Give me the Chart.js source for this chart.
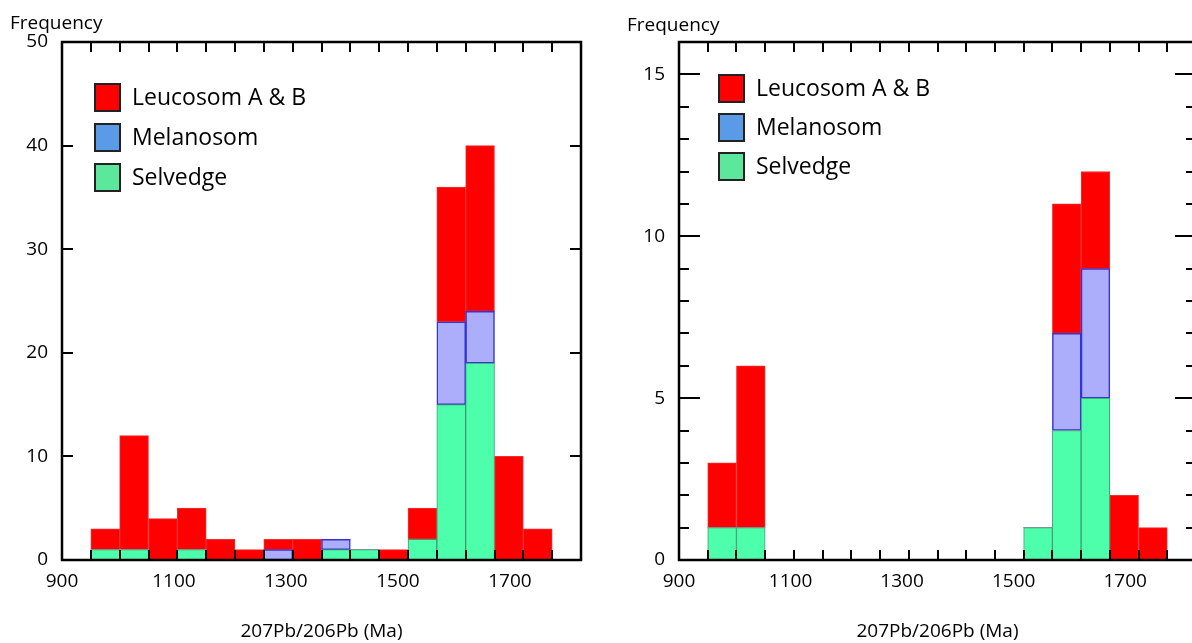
<!DOCTYPE html>
<html>
<head>
<meta charset="utf-8">
<script src="https://cdn.jsdelivr.net/npm/chart.js@4"></script>
<style>
  html, body { margin: 0; padding: 0; background: #fff; overflow: hidden; }
  #wrap { position: relative; width: 1192px; height: 643px; overflow: hidden; }
  .panel { position: absolute; top: 0; width: 600px; height: 643px; }
  #leftPanel { left: 0; }
  #rightPanel { left: 600px; }
</style>
</head>
<body>
<div id="wrap">
  <div class="panel" id="leftPanel"><canvas id="chartLeft" width="600" height="643"></canvas></div>
  <div class="panel" id="rightPanel"><canvas id="chartRight" width="600" height="643"></canvas></div>
</div>
<script>
// bins (Ma)
const binCenters = [977.25, 1028.75, 1080.25, 1131.75, 1183.25, 1234.75, 1286.25, 1337.75,
                    1389.25, 1440.75, 1492.25, 1543.75, 1595.25, 1646.75, 1698.25, 1749.75];
const binEdges = [951.5, 1003, 1054.5, 1106, 1157.5, 1209, 1260.5, 1312, 1363.5,
                  1415, 1466.5, 1518, 1569.5, 1621, 1672.5, 1724, 1775.5];
const xTickValues = [900, 1100, 1300, 1500, 1700];

// left panel counts
const leftSelvedge  = [1, 1, 0, 1, 0, 0, 0, 0, 1, 1, 0, 2, 15, 19, 0, 0];
const leftMelanosom = [0, 0, 0, 0, 0, 0, 1, 0, 1, 0, 0, 0, 8, 5, 0, 0];
const leftLeucosom  = [2, 11, 4, 4, 2, 1, 1, 2, 0, 0, 1, 3, 13, 16, 10, 3];

// right panel counts
const rightSelvedge  = [1, 1, 0, 0, 0, 0, 0, 0, 0, 0, 0, 1, 4, 5, 0, 0];
const rightMelanosom = [0, 0, 0, 0, 0, 0, 0, 0, 0, 0, 0, 0, 3, 4, 0, 0];
const rightLeucosom  = [2, 5, 0, 0, 0, 0, 0, 0, 0, 0, 0, 0, 4, 3, 2, 1];

const legendNames = ['Leucosom A & B', 'Melanosom', 'Selvedge'];
const legendColors = ['#ff0000', '#5a9be8', '#5ce89c'];

const FONT = "'Open Sans', 'Liberation Sans', sans-serif";

// frame, inward ticks, inside legend and the "Frequency" label
const decorations = {
  id: 'decorations',
  afterDatasetsDraw(chart, args, opts) {
    const { ctx, chartArea: a, scales: { x, y } } = chart;
    ctx.save();
    ctx.strokeStyle = '#000';
    ctx.lineWidth = 2;
    ctx.beginPath();
    binEdges.forEach(v => {
      const px = Math.round(x.getPixelForValue(v));
      ctx.moveTo(px, a.top); ctx.lineTo(px, a.top + 10);
      ctx.moveTo(px, a.bottom); ctx.lineTo(px, a.bottom - 10);
    });
    y.ticks.forEach(t => {
      const py = Math.round(y.getPixelForValue(t.value));
      const len = t.value % opts.major === 0 ? opts.majorLen : opts.minorLen;
      ctx.moveTo(a.left, py); ctx.lineTo(a.left + len, py);
      ctx.moveTo(a.right, py); ctx.lineTo(a.right - len, py);
    });
    ctx.stroke();
    ctx.lineWidth = 2.5;
    ctx.strokeRect(a.left, a.top, a.right - a.left, a.bottom - a.top);

    // legend inside plot
    const lx = a.left + opts.legendX;
    let ly = a.top + opts.legendY;
    ctx.font = '23px ' + FONT;
    ctx.textBaseline = 'middle';
    ctx.textAlign = 'left';
    legendNames.forEach((name, i) => {
      ctx.fillStyle = legendColors[i];
      ctx.fillRect(lx, ly, 25, 27);
      ctx.lineWidth = 2;
      ctx.strokeStyle = '#222';
      ctx.strokeRect(lx, ly, 25, 27);
      ctx.fillStyle = '#000';
      ctx.fillText(name, lx + 37, ly + 14);
      ly += opts.legendGap;
    });

    // axis caption above the y axis
    ctx.font = '19px ' + FONT;
    ctx.textBaseline = 'alphabetic';
    ctx.fillText('Frequency', opts.freqX, opts.freqY);
    ctx.restore();
  }
};

function buildChart(id, selvedge, melanosom, leucosom, yMax, yStep, deco, layout) {
  const zeroless = ctx => (ctx.raw ? ctx.dataset.edgeWidth : 0);
  return new Chart(document.getElementById(id), {
    type: 'bar',
    data: {
      labels: binCenters,
      datasets: [
        { label: 'Selvedge', data: selvedge, backgroundColor: '#4dffaa',
          borderColor: '#3c9c70', edgeWidth: 1, borderWidth: zeroless, borderSkipped: false },
        { label: 'Melanosom', data: melanosom, backgroundColor: '#acaefc',
          borderColor: '#3434d4', edgeWidth: 1.5, borderWidth: zeroless, borderSkipped: false },
        { label: 'Leucosom A & B', data: leucosom, backgroundColor: '#ff0000',
          borderColor: '#f03030', edgeWidth: 1, borderWidth: zeroless, borderSkipped: false }
      ]
    },
    options: {
      responsive: false,
      animation: false,
      layout: { padding: { top: 42, right: layout.padRight, left: 0, bottom: 0 } },
      datasets: { bar: { categoryPercentage: 1, barPercentage: 1 } },
      scales: {
        x: {
          type: 'linear',
          stacked: true,
          offset: false,
          min: 900,
          max: 1827,
          afterBuildTicks: scale => { scale.ticks = xTickValues.map(v => ({ value: v })); },
          afterFit: scale => { scale.height = 83; },
          grid: { display: false },
          border: { display: false },
          ticks: {
            autoSkip: false, maxRotation: 0, padding: 2, color: '#000',
            font: { family: FONT, size: 19 },
            callback: v => String(v)
          },
          title: {
            display: true, text: '207Pb/206Pb (Ma)', color: '#000',
            font: { family: FONT, size: 19 }, padding: { top: 0, bottom: 0 }
          }
        },
        y: {
          stacked: true,
          min: 0,
          max: yMax,
          afterFit: scale => { scale.width = layout.yWidth; },
          grid: { display: false },
          border: { display: false },
          ticks: {
            stepSize: yStep, autoSkip: false, padding: 6, color: '#000',
            font: { family: FONT, size: 19 },
            callback: v => (v % deco.major === 0 ? String(v) : '')
          }
        }
      },
      plugins: {
        legend: { display: false },
        tooltip: { enabled: false },
        decorations: deco
      }
    },
    plugins: [decorations]
  });
}

buildChart('chartLeft', leftSelvedge, leftMelanosom, leftLeucosom, 50, 10,
  { major: 10, majorLen: 11, minorLen: 11, legendX: 33, legendY: 42, legendGap: 40, freqX: 10, freqY: 29 },
  { padRight: 19, yWidth: 62 });

buildChart('chartRight', rightSelvedge, rightMelanosom, rightLeucosom, 16, 1,
  { major: 5, majorLen: 21, minorLen: 10, legendX: 40, legendY: 33, legendGap: 39, freqX: 27, freqY: 31 },
  { padRight: 4, yWidth: 79 });
</script>
</body>
</html>
